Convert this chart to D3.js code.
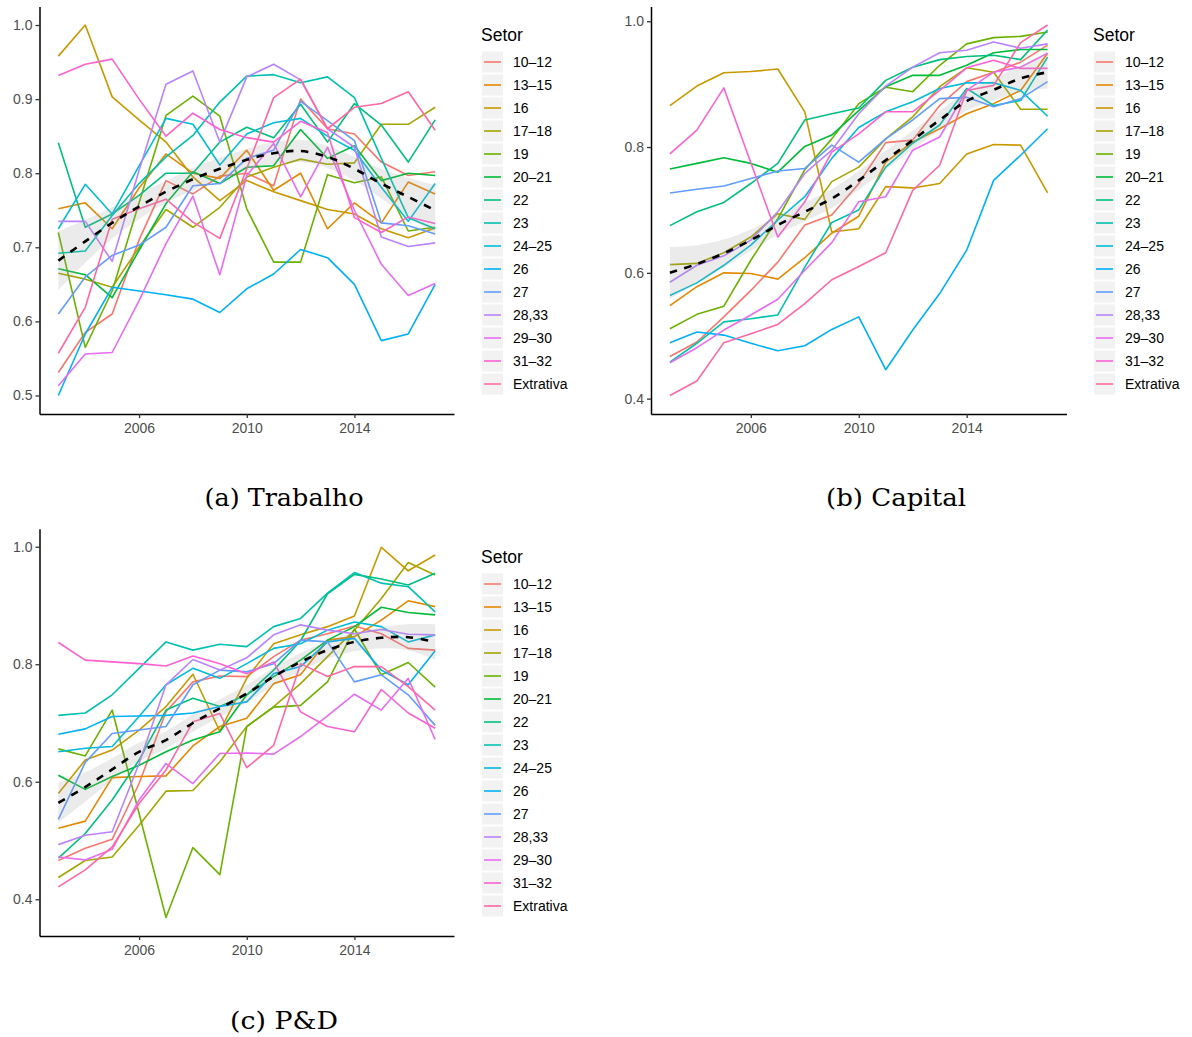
<!DOCTYPE html>
<html>
<head>
<meta charset="utf-8">
<script src="https://cdn.jsdelivr.net/npm/d3@7"></script>
<style>
  body { margin: 0; background: #fff; }
  svg { display: block; }
</style>
</head>
<body>
<div id="graph"></div>
<script>
// anos e setores
var anos = d3.range(2003, 2018);
var setores = ["10–12", "13–15", "16", "17–18", "19", "20–21", "22", "23",
               "24–25", "26", "27", "28,33", "29–30", "31–32", "Extrativa"];
var cores = ["#F8766D", "#E58700", "#C99800", "#A3A500", "#6BB100", "#00BA38", "#00BF7D", "#00C0AF",
             "#00BCD8", "#00B0F6", "#619CFF", "#B983FF", "#E76BF3", "#FD61D1", "#FF67A4"];
var ticksAno = [2006, 2010, 2014];

// (a) Trabalho - one row per setor, 2003..2017
var trabalho = [
  [.531, .585, .61, .71, .79, .772, .796, .80, .783, .90, .86, .853, .815, .797, .802],
  [.752, .76, .725, .78, .826, .80, .793, .831, .777, .80, .725, .76, .733, .788, .772],
  [.958, 1.0, .903, .872, .842, .795, .763, .79, .775, .763, .751, .745, .725, .713, .726],
  [.665, .657, .646, .70, .751, .727, .754, .795, .808, .819, .812, .814, .866, .866, .889],
  [.72, .565, .641, .76, .878, .904, .877, .752, .68, .68, .798, .787, .795, .722, .727],
  [.671, .663, .632, .696, .759, .802, .786, .808, .81, .859, .82, .837, .79, .80, .797],
  [.841, .727, .745, .77, .80, .80, .842, .862, .848, .893, .842, .894, .865, .815, .872],
  [.692, .695, .743, .786, .822, .851, .896, .931, .933, .922, .93, .902, .82, .74, .725],
  [.725, .785, .745, .81, .874, .866, .811, .853, .868, .874, .85, .831, .781, .735, .786],
  [.50, .583, .646, .641, .636, .63, .612, .644, .664, .697, .686, .65, .574, .583, .65],
  [.61, .66, .689, .703, .727, .783, .786, .82, .831, .897, .871, .844, .733, .729, .718],
  [.735, .735, .681, .804, .92, .938, .842, .93, .947, .926, .86, .835, .714, .701, .706],
  [.513, .556, .558, .628, .705, .769, .663, .797, .84, .768, .835, .75, .677, .635, .651],
  [.932, .947, .954, .90, .85, .881, .859, .848, .842, .87, .855, .74, .72, .741, .732],
  [.557, .619, .738, .752, .765, .734, .712, .806, .902, .927, .86, .889, .894, .91, .858]
];
var trabalhoSuave = [.682, .708, .733, .755, .775, .792, .806, .818, .827, .830, .822, .806, .786, .768, .750];
var trabalhoErro = [.04, .029, .021, .017, .015, .015, .015, .015, .015, .015, .015, .016, .02, .026, .034];
var ticksTrabalho = [0.5, 0.6, 0.7, 0.8, 0.9, 1.0];

// (b) Capital
var capital = [
  [.467, .49, .53, .572, .617, .676, .692, .742, .807, .811, .866, .904, .919, .935, .962],
  [.548, .578, .60, .599, .59, .624, .663, .69, .776, .808, .829, .853, .869, .89, .949],
  [.866, .897, .918, .92, .924, .856, .665, .67, .737, .735, .742, .789, .804, .803, .727],
  [.613, .615, .632, .657, .694, .685, .745, .768, .813, .848, .896, .926, .919, .86, .86],
  [.511, .534, .547, .62, .686, .764, .813, .869, .895, .888, .93, .964, .974, .976, .983],
  [.765, .774, .783, .774, .76, .801, .819, .858, .896, .914, .914, .93, .95, .955, .955],
  [.675, .697, .712, .742, .774, .843, .853, .862, .906, .927, .939, .944, .946, .939, .986],
  [.458, .488, .522, .527, .533, .609, .68, .70, .768, .806, .835, .893, .866, .874, .943],
  [.564, .584, .612, .644, .684, .721, .782, .831, .856, .872, .893, .902, .902, .89, .849],
  [.489, .506, .501, .488, .476, .484, .51, .53, .446, .509, .567, .636, .747, .787, .829],
  [.727, .733, .738, .75, .762, .766, .803, .776, .813, .843, .877, .879, .864, .877, .904],
  [.585, .612, .627, .652, .697, .758, .795, .853, .897, .927, .95, .954, .967, .957, .964],
  [.457, .481, .509, .533, .558, .604, .648, .713, .721, .795, .816, .89, .919, .927, .949],
  [.789, .827, .894, .775, .657, .713, .792, .821, .856, .856, .89, .926, .938, .925, .925],
  [.405, .428, .489, .503, .518, .551, .589, .61, .632, .731, .771, .89, .898, .966, .994]
];
var capitalSuave = [.60, .614, .631, .652, .676, .697, .718, .747, .779, .811, .843, .873, .891, .909, .919];
var capitalErro = [.041, .03, .022, .017, .015, .015, .015, .015, .015, .015, .015, .015, .017, .021, .026];
var ticksCapital = [0.4, 0.6, 0.8, 1.0];

// (c) P&D
var pd = [
  [.466, .487, .502, .597, .719, .77, .78, .779, .813, .841, .852, .865, .852, .827, .824],
  [.521, .533, .607, .609, .61, .661, .694, .708, .767, .782, .841, .847, .875, .908, .898],
  [.58, .637, .654, .688, .728, .783, .686, .776, .835, .85, .864, .882, .999, .959, .986],
  [.437, .466, .472, .526, .584, .585, .634, .694, .728, .767, .813, .858, .912, .973, .952],
  [.656, .644, .722, .546, .369, .488, .442, .694, .727, .73, .77, .86, .782, .803, .761],
  [.611, .587, .609, .628, .651, .671, .685, .748, .779, .807, .841, .864, .897, .888, .884],
  [.47, .512, .569, .637, .722, .742, .728, .748, .79, .84, .92, .953, .945, .935, .955],
  [.713, .717, .748, .793, .838, .824, .834, .83, .864, .878, .921, .956, .938, .932, .889],
  [.651, .657, .66, .711, .765, .793, .776, .801, .827, .835, .858, .872, .864, .838, .85],
  [.681, .69, .711, .712, .713, .717, .728, .736, .784, .796, .838, .844, .79, .765, .823],
  [.536, .633, .682, .688, .694, .765, .79, .787, .801, .841, .838, .77, .782, .748, .696],
  [.493, .509, .515, .631, .765, .808, .79, .811, .85, .867, .858, .852, .859, .851, .85],
  [.472, .467, .485, .569, .631, .597, .648, .649, .647, .677, .712, .749, .722, .776, .672],
  [.837, .807, .804, .801, .797, .814, .801, .784, .804, .719, .694, .685, .757, .717, .691],
  [.421, .45, .489, .563, .62, .702, .716, .624, .662, .801, .779, .796, .796, .762, .722]
];
var pdSuave = [.564, .591, .621, .651, .671, .70, .725, .75, .779, .804, .824, .838, .845, .846, .838];
var pdErro = [.034, .025, .019, .016, .015, .015, .015, .015, .015, .015, .015, .016, .018, .022, .03];
var ticksPD = [0.4, 0.6, 0.8, 1.0];

var fonte = "'Liberation Sans', Arial, sans-serif";

var svg = d3.select("#graph").append("svg")
    .attr("width", 1192)
    .attr("height", 1037);

function drawPanel(p) {
    // ggplot style 5% expansion on both axes
    var flat = p.series.flat();
    var ymin = d3.min(flat), ymax = d3.max(flat);
    var ypad = (ymax - ymin) * 0.05;
    var xpad = (2017 - 2003) * 0.05;

    var x = d3.scaleLinear().domain([2003 - xpad, 2017 + xpad]).range([p.left, p.right]);
    var y = d3.scaleLinear().domain([ymin - ypad, ymax + ypad]).range([p.bottom, p.top]);

    var g = svg.append("g");

    var line = d3.line()
        .x(function(d, i) { return x(anos[i]); })
        .y(function(d) { return y(d); });

    // one line per setor
    g.selectAll("path.serie")
        .data(p.series)
        .enter().append("path")
        .attr("class", "serie")
        .attr("d", line)
        .attr("fill", "none")
        .attr("stroke", function(d, i) { return cores[i]; })
        .attr("stroke-width", 1.6)
        .attr("stroke-linejoin", "round");

    // smooth ribbon + dashed fit
    var area = d3.area()
        .curve(d3.curveCatmullRom)
        .x(function(d, i) { return x(anos[i]); })
        .y0(function(d, i) { return y(d - p.erro[i]); })
        .y1(function(d, i) { return y(d + p.erro[i]); });

    g.append("path")
        .attr("d", area(p.suave))
        .attr("fill", "#999999")
        .attr("fill-opacity", 0.2);

    g.append("path")
        .attr("d", line.curve(d3.curveCatmullRom)(p.suave))
        .attr("fill", "none")
        .attr("stroke", "#000")
        .attr("stroke-width", 2.6)
        .attr("stroke-dasharray", "7.5,7.5");

    // axes
    var gx = g.append("g")
        .attr("transform", "translate(0," + p.bottom + ")")
        .call(d3.axisBottom(x).tickValues(ticksAno).tickFormat(d3.format("d"))
            .tickSize(4).tickSizeOuter(0).tickPadding(5));
    var gy = g.append("g")
        .attr("transform", "translate(" + p.left + ",0)")
        .call(d3.axisLeft(y).tickValues(p.yTicks).tickFormat(d3.format(".1f"))
            .tickSize(4).tickSizeOuter(0).tickPadding(3));

    [gx, gy].forEach(function(ax) {
        ax.attr("font-family", fonte).attr("font-size", 14);
        ax.select(".domain").attr("stroke", "#000").attr("stroke-width", 1.5);
        ax.selectAll(".tick line").attr("stroke", "#333").attr("stroke-width", 1.3);
        ax.selectAll(".tick text").attr("fill", "#4D4D4D");
    });

    // legend
    var leg = g.append("g");
    leg.append("text")
        .attr("x", p.legendX - 1)
        .attr("y", p.legendY)
        .attr("dy", "0.35em")
        .style("font-family", fonte)
        .style("font-size", "17.5px")
        .style("fill", "#000")
        .text("Setor");

    setores.forEach(function(s, i) {
        var cy = p.legendY + 27 + 23 * i;
        leg.append("rect")
            .attr("x", p.legendX)
            .attr("y", cy - 10.5)
            .attr("width", 21)
            .attr("height", 21)
            .attr("fill", "#F2F2F2");
        leg.append("line")
            .attr("x1", p.legendX + 2)
            .attr("x2", p.legendX + 19)
            .attr("y1", cy)
            .attr("y2", cy)
            .attr("stroke", cores[i])
            .attr("stroke-width", 1.6);
        leg.append("text")
            .attr("x", p.legendX + 31)
            .attr("y", cy + 0.5)
            .attr("dy", "0.35em")
            .style("font-family", fonte)
            .style("font-size", "14px")
            .style("fill", "#000")
            .text(s);
    });

    // caption under the subfigure
    svg.append("text")
        .attr("x", p.captionX)
        .attr("y", p.captionY)
        .attr("text-anchor", "middle")
        .attr("textLength", p.captionWidth)
        .attr("lengthAdjust", "spacingAndGlyphs")
        .style("font-family", "'DejaVu Serif', serif")
        .style("font-size", "24.5px")
        .style("fill", "#000")
        .text(p.caption);
}

drawPanel({
    series: trabalho, suave: trabalhoSuave, erro: trabalhoErro, yTicks: ticksTrabalho,
    left: 39.5, right: 454, top: 6.5, bottom: 414,
    legendX: 482, legendY: 35,
    caption: "(a) Trabalho", captionX: 284, captionY: 506, captionWidth: 159
});

drawPanel({
    series: capital, suave: capitalSuave, erro: capitalErro, yTicks: ticksCapital,
    left: 651, right: 1066.5, top: 6.5, bottom: 414,
    legendX: 1094, legendY: 35,
    caption: "(b) Capital", captionX: 896, captionY: 506, captionWidth: 140
});

drawPanel({
    series: pd, suave: pdSuave, erro: pdErro, yTicks: ticksPD,
    left: 39.5, right: 454, top: 528.8, bottom: 936,
    legendX: 482, legendY: 557,
    caption: "(c) P&D", captionX: 284, captionY: 1029, captionWidth: 108
});
</script>
</body>
</html>
